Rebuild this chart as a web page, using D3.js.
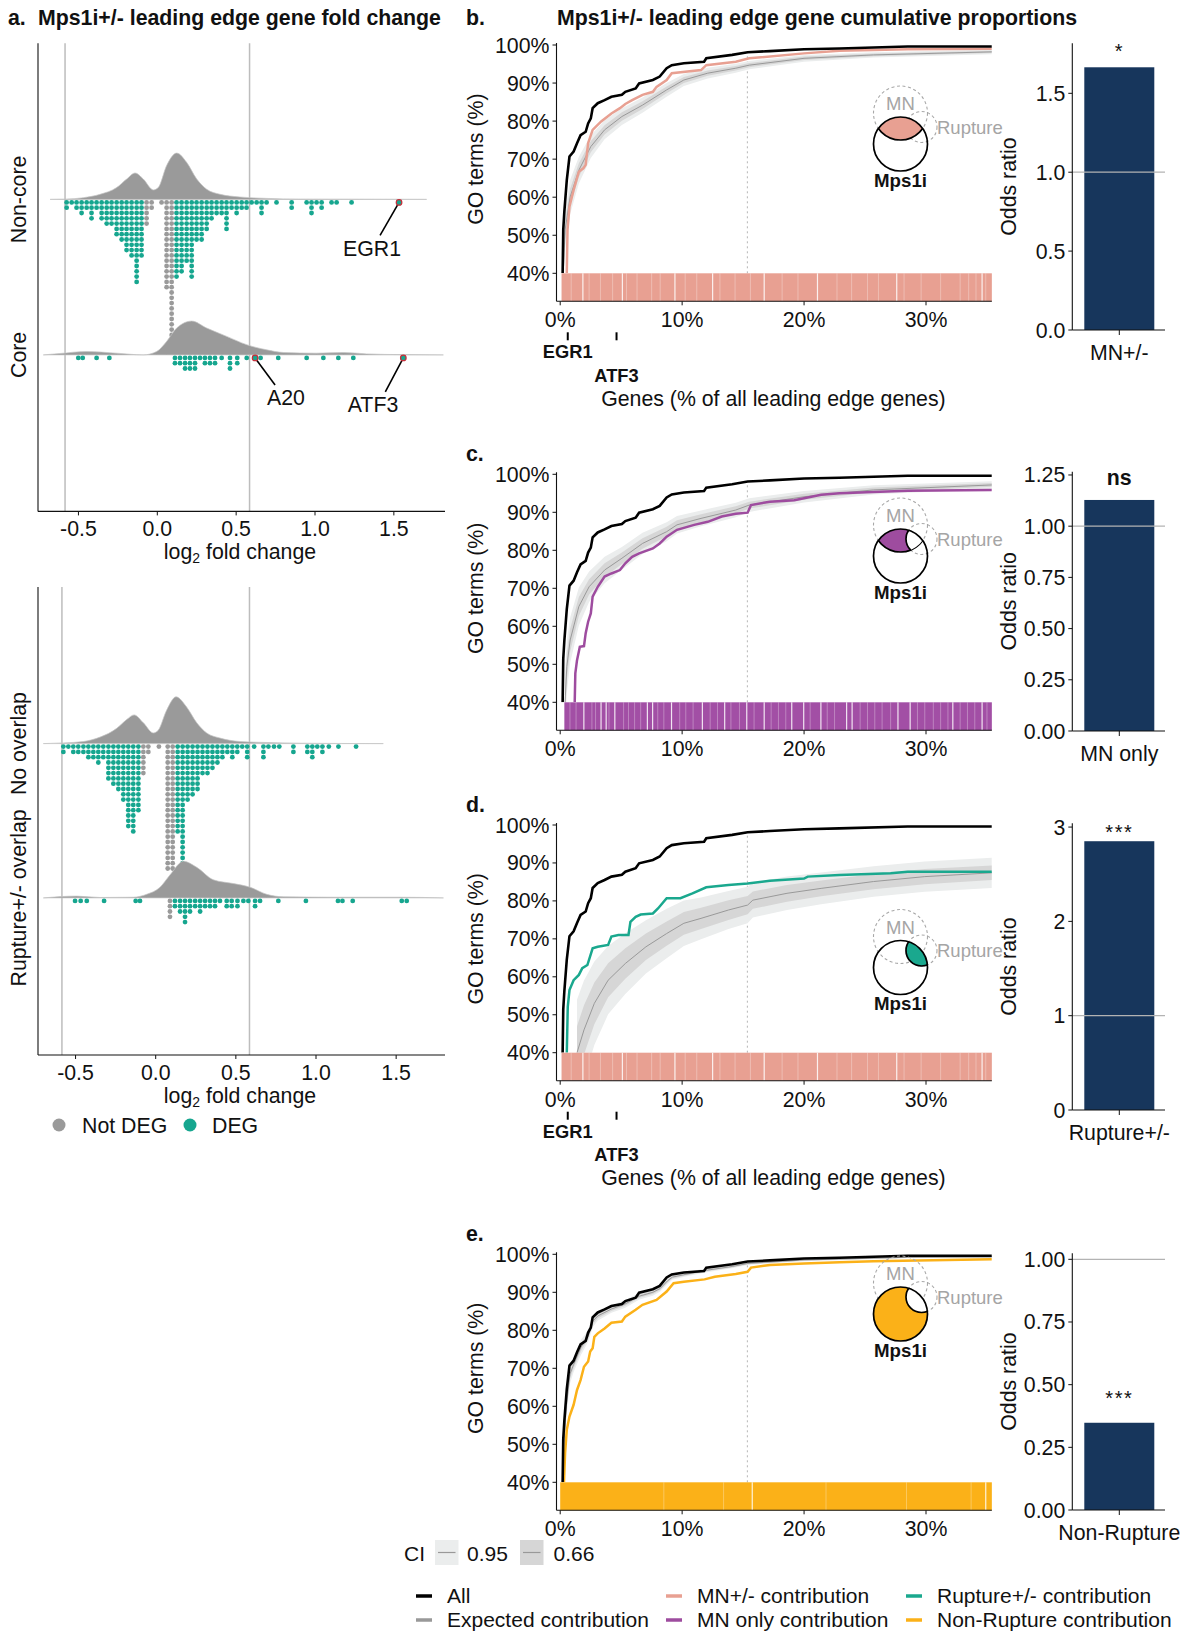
<!DOCTYPE html>
<html><head><meta charset="utf-8">
<script src="https://cdn.jsdelivr.net/npm/d3@7/dist/d3.min.js"></script>
<style>
html,body{margin:0;padding:0;background:#fff;}
svg text{font-family:"Liberation Sans",Arial,Helvetica,sans-serif;}
</style></head>
<body>
<svg id="fig" width="1181" height="1631" xmlns="http://www.w3.org/2000/svg"></svg>
<script>
// ================= DATA =================
// ---- panel a : log2 fold change ridges (relative density) ----
const foldTicks = [-0.5, 0, 0.5, 1, 1.5];
const foldTickLabels = ["-0.5", "0.0", "0.5", "1.0", "1.5"];
const foldThreshold = 0.585;

const densNonCore = [[-0.68,0],[-0.575,0.006],[-0.469,0.037],[-0.363,0.11],[-0.258,0.255],[-0.194,0.44],[-0.141,0.57],[-0.089,0.44],[-0.025,0.205],[0.006,0.255],[0.059,0.73],[0.123,1.0],[0.186,0.80],[0.25,0.44],[0.313,0.22],[0.398,0.11],[0.524,0.052],[0.693,0.022],[0.905,0.006],[1.708,0]];
const densCore = [[-0.723,0],[-0.617,0.03],[-0.448,0.073],[-0.258,0.037],[-0.089,0.0],[-0.004,0.073],[0.059,0.29],[0.123,0.58],[0.218,0.73],[0.313,0.58],[0.44,0.40],[0.567,0.22],[0.693,0.11],[0.799,0.052],[1.01,0.037],[1.18,0.052],[1.327,0.022],[1.539,0.006],[1.814,0]];
const densNoOverlap = [[-0.701,0],[-0.576,0.015],[-0.451,0.045],[-0.347,0.14],[-0.243,0.33],[-0.181,0.52],[-0.135,0.62],[-0.077,0.45],[-0.015,0.23],[0.016,0.29],[0.068,0.72],[0.127,1.01],[0.193,0.79],[0.256,0.45],[0.318,0.23],[0.401,0.12],[0.526,0.045],[0.692,0.024],[0.9,0.009],[1.42,0]];
const densRuptOverlap = [[-0.701,0],[-0.493,0.039],[-0.347,0.009],[-0.139,0.015],[-0.056,0.078],[0.027,0.23],[0.09,0.50],[0.173,0.79],[0.256,0.66],[0.36,0.39],[0.485,0.31],[0.589,0.23],[0.692,0.078],[0.796,0.024],[1.108,0.015],[1.524,0.015],[1.795,0]];

// dot stacks: [log2FC bin, number of genes]
const nonCoreDEG = [[-0.575,2],[-0.543,1],[-0.512,2],[-0.48,3],[-0.448,2],[-0.417,4],[-0.385,2],[-0.353,4],[-0.321,5],[-0.29,5],[-0.258,7],[-0.226,8],[-0.195,10],[-0.163,11],[-0.131,16],[-0.1,11],
  [0.122,15],[0.154,14],[0.186,12],[0.218,15],[0.249,8],[0.281,8],[0.313,6],[0.344,4],[0.376,3],[0.408,3],[0.439,6],[0.471,2],[0.503,3],[0.535,2],[0.566,2],[0.598,1],[0.63,1],[0.661,3],[0.693,1],[0.756,1],[0.852,2],[0.947,1],[0.978,3],[1.01,1],[1.042,2],[1.105,1],[1.137,1],[1.232,1]];
const nonCoreNotDEG = [[-0.068,5],[-0.036,2],[0.027,1],[0.059,17],[0.091,26]];
const coreDEG = [[-0.501,1],[-0.473,1],[-0.385,1],[-0.304,1],[0.112,2],[0.144,2],[0.176,3],[0.207,3],[0.239,3],[0.271,1],[0.302,2],[0.334,2],[0.366,2],[0.408,1],[0.461,3],[0.507,2],[0.567,1],[0.655,1],[0.767,1],[0.947,1],[1.053,1],[1.148,1],[1.243,1]];
const coreNotDEG = [];
const noOverlapDEG = [[-0.576,2],[-0.545,1],[-0.514,2],[-0.483,2],[-0.451,2],[-0.42,3],[-0.389,3],[-0.358,4],[-0.327,3],[-0.295,7],[-0.264,8],[-0.233,9],[-0.202,11],[-0.171,16],[-0.14,17],[-0.108,13],
  [0.137,17],[0.168,24],[0.199,11],[0.23,10],[0.261,9],[0.292,6],[0.323,6],[0.354,5],[0.385,4],[0.416,3],[0.447,2],[0.478,3],[0.509,2],[0.54,1],[0.571,3],[0.614,1],[0.672,3],[0.703,1],[0.738,1],[0.771,1],[0.859,2],[0.946,2],[0.977,3],[1.008,1],[1.04,2],[1.08,1],[1.14,1],[1.25,1]];
const noOverlapNotDEG = [[-0.077,6],[-0.046,2],[0.02,1],[0.075,24],[0.106,24]];
const ruptOverlapDEG = [[-0.503,1],[-0.468,1],[-0.43,1],[-0.322,1],[-0.125,1],[-0.098,1],[0.12,2],[0.152,3],[0.183,5],[0.214,3],[0.246,2],[0.277,3],[0.308,2],[0.339,2],[0.37,2],[0.401,1],[0.443,2],[0.474,2],[0.51,2],[0.547,1],[0.578,1],[0.62,2],[0.651,1],[0.765,1],[0.937,1],[1.137,1],[1.165,1],[1.229,1],[1.535,1],[1.566,1]];
const ruptOverlapNotDEG = [[0.089,4]];

const highlightGenes = [
  {gene:"EGR1", fc:1.533, group:"Non-core"},
  {gene:"A20",  fc:0.62,  group:"Core"},
  {gene:"ATF3", fc:1.56,  group:"Core"}
];

// ---- panels b-e : cumulative proportions [% genes, % GO terms] ----
const pctTicks = [0, 10, 20, 30];
const goTicks = [40, 50, 60, 70, 80, 90, 100];
const allCurve = [[0.2,40],[0.25,51.4],[0.34,56.2],[0.54,64.5],[0.76,70.7],[1.1,72],[1.38,74.2],[1.67,76.3],[2.09,77.2],[2.29,79.4],[2.51,80.7],[2.66,83.4],[3.08,84.7],[3.64,85.5],[4.2,86.4],[5.06,86.9],[5.34,87.7],[6.19,88.6],[6.47,89.9],[7.6,90.8],[8.16,91.7],[8.73,93.9],[9.15,94.7],[10.14,95.2],[11.8,95.6],[11.98,96.5],[14.1,97.4],[15.37,98.1],[17.2,98.4],[20,98.9],[22.9,99.1],[28.5,99.6],[35.4,99.6]];

const mnCurve = [[0.54,40],[0.6,51.4],[0.76,57.5],[1.1,61.9],[1.53,66.7],[1.9,67.6],[2.09,68.5],[2.29,74.2],[2.66,77.7],[3.36,79.9],[4.2,82],[4.9,83.4],[5.34,84.5],[5.9,85.5],[6.75,86.9],[7.6,87.7],[7.9,89],[8.73,90.8],[9.15,92.6],[11.55,93.4],[11.98,94.7],[14.4,95.6],[15.5,96.5],[20,97.8],[22.9,98.5],[28.5,98.9],[35.4,99]];
const mnExpected = [[0.25,40],[0.4,51.4],[0.82,60.1],[1.53,67.1],[2.51,73.3],[3.64,77.7],[5.06,81.2],[6.75,84.2],[8.73,88.2],[10.14,90.8],[12.1,92.6],[14.4,93.9],[15.5,94.7],[20,96.5],[25.7,97.4],[35.4,98.2]];
const mnCI95 = [5,5,4.5,3.5,3,2.5,2.2,2,1.8,1.6,1.4,1.2,1.1,0.9,0.7,0.6];
const mnCI66 = [2.5,2.5,2.2,1.8,1.5,1.2,1.1,1,0.9,0.8,0.7,0.6,0.55,0.45,0.35,0.3];

const mnOnlyCurve = [[1.19,40],[1.24,47.6],[1.38,51.1],[1.61,54.6],[1.95,54.8],[2.09,58.2],[2.29,61.2],[2.51,63.4],[2.66,67.8],[3.08,70.4],[3.64,73.1],[4.2,73.9],[4.9,74.8],[5.34,76.6],[5.9,78.3],[6.47,79.2],[7.6,80.5],[8.16,81.8],[8.73,83.6],[9.58,85.4],[10.99,86.7],[12.1,87.5],[13.25,88.9],[14.4,89.6],[15.37,89.9],[15.65,91.9],[17.2,92.8],[19.2,93.2],[21.4,94.6],[22.9,95],[28.5,95.7],[35.4,95.9]];
const mnOnlyExpected = [[0.4,40],[0.54,49.4],[0.82,56.4],[1.53,65.2],[2.37,70.4],[3.64,74.8],[5.06,77.9],[6.75,81.8],[8.73,84.9],[9.58,86.7],[11.55,88.4],[14.4,90.6],[15.5,91.9],[20,94.1],[25.7,95.9],[35.4,97.2]];
const mnOnlyCI95 = [8,7,6,5,4,3.5,3,2.8,2.5,2.3,2.1,1.9,1.8,1.5,1.2,1];
const mnOnlyCI66 = [4,3.5,3,2.5,2,1.8,1.5,1.4,1.3,1.2,1.1,1,0.9,0.8,0.6,0.5];

const ruptCurve = [[0.54,40],[0.62,52.1],[0.76,56.5],[1.1,59.1],[1.53,60.5],[1.81,62.3],[2.23,63.1],[2.66,67.5],[3.08,67.9],[3.93,68.4],[4.2,70.6],[4.77,71],[5.6,71],[5.76,74.5],[6.19,75.8],[6.6,76.4],[7.6,76.7],[8.02,78],[8.73,80.7],[9.86,80.7],[10.85,82],[11.98,83.6],[13.8,84.2],[15.37,84.6],[17.2,85.3],[20,85.9],[20.3,86.4],[22.9,86.8],[27.1,87.3],[28.5,87.7],[35.4,87.7]];
const ruptExpected = [[1.38,40],[1.95,46],[2.8,53],[3.93,59.1],[5.34,63.5],[7.03,67.9],[8.73,71.4],[10.14,74.1],[11.55,75.4],[13.8,77.6],[15.37,78.9],[15.8,80.2],[18.6,82],[21.4,83.3],[25.7,85.1],[29.9,86.4],[35.4,87.4]];
const ruptCI95 = [14,13,11,9,8,7,6.5,6,5.5,5,4.8,4.6,4.4,4.2,4,4,4];
const ruptCI66 = [7,6.5,5.5,4.5,4,3.5,3.2,3,2.8,2.6,2.4,2.3,2.2,2.1,2,2,1.9];

const nonRuptCurve = [[0.31,40],[0.4,47.6],[0.54,53.8],[0.76,57.3],[1.1,60.4],[1.38,64.3],[1.67,66.9],[1.95,70.4],[2.29,71.8],[2.46,74.4],[2.66,75.3],[2.8,78.3],[3.08,79.2],[3.64,80.5],[4.2,82],[5.06,82.3],[5.34,83.6],[6.19,85.4],[6.75,86.7],[7.9,88],[8.73,90.2],[9.3,92.4],[10.14,92.8],[11.84,93.4],[12.68,94.1],[14.4,94.8],[15.37,95.4],[15.65,96.5],[17.2,97.2],[20,97.6],[22.9,97.9],[25.7,98.2],[35.4,98.7]];
const nonRuptExpected = [[0.2,40],[0.3,50],[0.5,60],[0.8,68.5],[1.1,71],[1.7,75.5],[2.3,78.5],[2.7,82.5],[3.1,83.8],[4.2,85.6],[5.3,86.9],[6.5,89],[7.6,90],[8.2,91],[8.8,93],[9.2,94],[10.1,94.6],[12,95.8],[14.1,96.8],[15.4,97.6],[20,98.5],[28.5,99.2],[35.4,99.3]];
const nonRuptCI95 = [3,3,3,2.5,2,2,1.5,1.5,1.2,1,1,0.9,0.9,0.8,0.8,0.7,0.6,0.5,0.5,0.4,0.3,0.2,0.2];
const nonRuptCI66 = [1.5,1.5,1.5,1.2,1,1,0.8,0.8,0.6,0.5,0.5,0.45,0.45,0.4,0.4,0.35,0.3,0.25,0.25,0.2,0.15,0.1,0.1];

// rug gaps (% positions of genes NOT in the category)
const gapsMN = [1.86,5.1,9.41,12.5,16.73,21.1,27.6,34.6];
const gapsMNLight = [0.9,2.37,3.3,4.3,5.44,6.3,7.5,8.2,10.25,11.2,13.1,14.34,15.6,18.2,19.5,22.7,23.9,25.2,26.1,28.2,29.6,31.2,32.8,33.5,34.1,34.9];
const gapsMNOnly = [1.94,3.35,3.77,4.48,7.15,7.58,9.13,11.66,13.49,15.3,16.73,18.99,19.97,21.38,23.49,23.94,27.7,28.7,32.2,34.6];
const gapsMNOnlyLight = [0.8,1.3,2.6,2.9,4.0,5.2,5.6,6.1,6.6,8.0,8.5,9.8,10.3,10.9,12.3,12.9,14.0,14.7,15.9,17.3,17.9,18.5,20.5,21.9,22.5,24.6,25.2,25.8,26.4,27.1,29.3,29.9,30.6,31.2,31.8,32.8,33.4,34.0,35.0];
const gapsNonRupt = [15.75,34.9];
const gapsNonRuptLight = [8.5,13.4,21.8,28.4,33.7];

const markerGenes = [{gene:"EGR1", pct:0.62}, {gene:"ATF3", pct:4.62}];

// ---- odds ratio bars ----
const orCategories = ["MN+/-", "MN only", "Rupture+/-", "Non-Rupture"];
const orValues = [1.665, 1.128, 2.85, 0.348];
const orSignif = ["*", "ns", "***", "***"];
const orTicks = [[0,0.5,1,1.5],[0,0.25,0.5,0.75,1,1.25],[0,1,2,3],[0,0.25,0.5,0.75,1]];
const orTickLabels = [["0.0","0.5","1.0","1.5"],["0.00","0.25","0.50","0.75","1.00","1.25"],["0","1","2","3"],["0.00","0.25","0.50","0.75","1.00"]];
const orMax = [1.817, 1.266, 3.04, 1.024];

// ================= DRAW =================
const svg = d3.select("#fig");
const defs = svg.append("defs");
const GREY = "#9a9a9a", TEAL = "#16a68f";
const C_MN = "#e8a092", C_MNONLY = "#9e4c9f", C_RUPT = "#1aa88e", C_NR = "#fbb118", NAVY = "#17365c";
const FS = 21.3;

function txt(x, y, s, o = {}) {
  const t = svg.append("text").attr("x", x).attr("y", y).text(s)
    .attr("font-size", o.size || FS).attr("fill", o.fill || "#111")
    .attr("text-anchor", o.anchor || "start");
  if (o.bold) t.attr("font-weight", "bold");
  if (o.rotate) t.attr("transform", `rotate(-90,${x},${y})`).attr("dy", "0.35em");
  if (o.ls) t.attr("letter-spacing", o.ls);
  return t;
}

// ---------- panel a ----------
txt(8, 25, "a.", {bold: true, size: 21.3});
txt(38, 25, "Mps1i+/- leading edge gene fold change", {bold: true, size: 21.3});

const ROW = 5.3, DOT_R = 2.4;
function ridge(xs, base, dens, deg, notDeg) {
  const area = d3.area().x(d => xs(d[0])).y0(base).y1(d => base - d[1] * 46.3).curve(d3.curveMonotoneX);
  svg.append("path").attr("d", area(dens)).attr("fill", GREY).attr("stroke", "#c4c4c4").attr("stroke-width", 0.7);
  const pts = [];
  notDeg.forEach(([fc, n]) => { for (let i = 0; i < n; i++) pts.push({fc, i, c: GREY}); });
  deg.forEach(([fc, n]) => { for (let i = 0; i < n; i++) pts.push({fc, i, c: TEAL}); });
  svg.append("g").selectAll("circle").data(pts).join("circle")
    .attr("cx", d => xs(d.fc)).attr("cy", d => base + 3 + d.i * ROW).attr("r", DOT_R).attr("fill", d => d.c);
}
function foldAxis(xs, top, axisY) {
  const L = 38, R = 445;
  [-foldThreshold, foldThreshold].forEach(v => svg.append("line").attr("x1", xs(v)).attr("x2", xs(v))
    .attr("y1", top).attr("y2", axisY).attr("stroke", "#bdbdbd").attr("stroke-width", 1.5));
  svg.append("line").attr("x1", L).attr("x2", L).attr("y1", top).attr("y2", axisY).attr("stroke", "#111").attr("stroke-width", 1.1);
  svg.append("line").attr("x1", L).attr("x2", R).attr("y1", axisY).attr("y2", axisY).attr("stroke", "#111").attr("stroke-width", 1.1);
  foldTicks.forEach((t, i) => {
    svg.append("line").attr("x1", xs(t)).attr("x2", xs(t)).attr("y1", axisY).attr("y2", axisY + 4).attr("stroke", "#111");
    txt(xs(t), axisY + 25, foldTickLabels[i], {anchor: "middle"});
  });
  const t = svg.append("text").attr("x", 240).attr("y", axisY + 47.5).attr("text-anchor", "middle").attr("font-size", FS).attr("fill", "#111");
  t.append("tspan").text("log");
  t.append("tspan").text("2").attr("font-size", 14).attr("dy", 4);
  t.append("tspan").text(" fold change").attr("dy", -4);
}

// top ridges
const xA1 = d3.scaleLinear().domain([0, 1]).range([157.3, 315]);
foldAxis(xA1, 43.3, 511.4);
const baseNC = 199.4, baseC = 354.9;
ridge(xA1, baseNC, densNonCore, nonCoreDEG, nonCoreNotDEG);
ridge(xA1, baseC, densCore, coreDEG, coreNotDEG);
txt(18.5, baseNC, "Non-core", {rotate: true, anchor: "middle"});
txt(18.5, baseC, "Core", {rotate: true, anchor: "middle"});

// highlights & labels
const hlLayout = {EGR1: {dx: -19, dy: 33, lx: 372, ly: 255.5}, A20: {dx: 20, dy: 27, lx: 286, ly: 404.5}, ATF3: {dx: -18, dy: 34, lx: 373, ly: 411.5}};
highlightGenes.forEach(h => {
  const bx = xA1(h.fc), by = (h.group === "Core" ? baseC : baseNC) + 3;
  const L = hlLayout[h.gene];
  svg.append("line").attr("x1", bx).attr("y1", by).attr("x2", bx + L.dx).attr("y2", by + L.dy).attr("stroke", "#000").attr("stroke-width", 1.6);
  svg.append("circle").attr("cx", bx).attr("cy", by).attr("r", 2.8).attr("fill", TEAL).attr("stroke", "#c62f3a").attr("stroke-width", 1.2);
  txt(L.lx, L.ly, h.gene, {anchor: "middle"});
});

// bottom ridges
const xA2 = d3.scaleLinear().domain([0, 1]).range([155.7, 316]);
foldAxis(xA2, 587, 1055);
const baseNO = 743.6, baseRO = 897.9;
ridge(xA2, baseNO, densNoOverlap, noOverlapDEG, noOverlapNotDEG);
ridge(xA2, baseRO, densRuptOverlap, ruptOverlapDEG, ruptOverlapNotDEG);
txt(18.5, baseNO, "No overlap", {rotate: true, anchor: "middle"});
txt(18.5, baseRO, "Rupture+/- overlap", {rotate: true, anchor: "middle"});

// DEG legend
[["Not DEG", GREY, 59, 82], ["DEG", TEAL, 190, 212]].forEach(([lab, col, cx, tx]) => {
  svg.append("circle").attr("cx", cx).attr("cy", 1125).attr("r", 6.5).attr("fill", col);
  txt(tx, 1132.5, lab);
});

// ---------- panels b-e ----------
const xC = d3.scaleLinear().domain([0, 30]).range([560.2, 926.0]);
const XL = 556.5, XR = xC(35.4);

txt(466, 25, "b.", {bold: true, size: 21.3});
txt(557, 25, "Mps1i+/- leading edge gene cumulative proportions", {bold: true, size: 21.3});

const panels = [
  {id: "b", y100: 45, y40: 273.3, contrib: mnCurve, exp: mnExpected, ci95: mnCI95, ci66: mnCI66, color: C_MN, rugColor: C_MN, rugStart: 0.11, gaps: gapsMN, gapsL: gapsMNLight, venn: "mn", vy: 144, genes: true},
  {id: "c", y100: 474.3, y40: 702.3, contrib: mnOnlyCurve, exp: mnOnlyExpected, ci95: mnOnlyCI95, ci66: mnOnlyCI66, color: C_MNONLY, rugColor: "#a24fa5", rugStart: 0.34, gaps: gapsMNOnly, gapsL: gapsMNOnlyLight, venn: "mnonly", vy: 556, genes: false, letter: "c."},
  {id: "d", y100: 825, y40: 1052.7, contrib: ruptCurve, exp: ruptExpected, ci95: ruptCI95, ci66: ruptCI66, color: C_RUPT, rugColor: C_MN, rugStart: 0.11, gaps: gapsMN, gapsL: gapsMNLight, venn: "rupt", vy: 967.5, genes: true, letter: "d."},
  {id: "e", y100: 1254.3, y40: 1482.3, contrib: nonRuptCurve, exp: nonRuptExpected, ci95: nonRuptCI95, ci66: nonRuptCI66, color: C_NR, rugColor: C_NR, rugStart: 0, gaps: gapsNonRupt, gapsL: gapsNonRuptLight, venn: "nonrupt", vy: 1314, genes: false, letter: "e."}
];

function venn(P, fillCol) {
  const cx = 900.5, cy = P.vy, r = 27;
  const mn = {x: cx, y: cy - 31, r: 27}, ru = {x: cx + 21, y: cy - 17, r: 15.5};
  const g = svg.append("g");
  const circ = (sel, c) => sel.append("circle").attr("cx", c.x).attr("cy", c.y).attr("r", c.r);
  circ(g, mn).attr("fill", "none").attr("stroke", "#a8a8a8").attr("stroke-width", 1.1).attr("stroke-dasharray", "3,2.6");
  circ(g, ru).attr("fill", "none").attr("stroke", "#a8a8a8").attr("stroke-width", 1.1).attr("stroke-dasharray", "3,2.6");
  const idM = "vm" + P.id, idN = "vn" + P.id;
  circ(defs.append("clipPath").attr("id", idM), {x: cx, y: cy, r: r});
  circ(defs.append("clipPath").attr("id", idN), mn);
  const inM = () => g.append("g").attr("clip-path", `url(#${idM})`);
  if (P.venn === "mn" || P.venn === "mnonly") {
    circ(inM(), mn).attr("fill", fillCol).attr("stroke", "#000").attr("stroke-width", 1.7);
  }
  if (P.venn === "mnonly") {
    circ(inM().append("g").attr("clip-path", `url(#${idN})`), ru).attr("fill", "#fff").attr("stroke", "#000").attr("stroke-width", 1.7);
  }
  if (P.venn === "rupt") {
    circ(inM(), ru).attr("fill", fillCol).attr("stroke", "#000").attr("stroke-width", 1.7);
  }
  if (P.venn === "nonrupt") {
    circ(g, {x: cx, y: cy, r: r}).attr("fill", fillCol);
    circ(inM(), ru).attr("fill", "#fff").attr("stroke", "#000").attr("stroke-width", 1.7);
  }
  circ(g, {x: cx, y: cy, r: r}).attr("fill", "none").attr("stroke", "#000").attr("stroke-width", 1.7);
  txt(cx, cy - 34, "MN", {anchor: "middle", fill: "#a5a5a5", size: 18.5});
  txt(937, ru.y + 6.5, "Rupture", {fill: "#a5a5a5", size: 18.5});
  txt(cx, cy + 42.5, "Mps1i", {anchor: "middle", bold: true, size: 18.7});
}

panels.forEach(P => {
  const y = d3.scaleLinear().domain([40, 100]).range([P.y40, P.y100]);
  const axisY = P.y40 + 28;
  if (P.letter) txt(466, P.y100 - 13, P.letter, {bold: true, size: 21.3});
  const cid = "cl" + P.id;
  defs.append("clipPath").attr("id", cid).append("rect").attr("x", XL).attr("y", P.y100 - 15).attr("width", XR - XL).attr("height", P.y40 - P.y100 + 15);
  // dotted reference
  svg.append("line").attr("x1", xC(15.35)).attr("x2", xC(15.35)).attr("y1", y(40)).attr("y2", y(98))
    .attr("stroke", "#b5b5b5").attr("stroke-width", 1).attr("stroke-dasharray", "2,3");
  const cg = svg.append("g").attr("clip-path", `url(#${cid})`);
  const band = ci => d3.area().x(d => xC(d[0])).y0((d, i) => y(d[1] - ci[i])).y1((d, i) => y(d[1] + ci[i]))(P.exp);
  cg.append("path").attr("d", band(P.ci95)).attr("fill", "#ebeded");
  cg.append("path").attr("d", band(P.ci66)).attr("fill", "#d6d6d6");
  const line = d3.line().x(d => xC(d[0])).y(d => y(d[1]));
  cg.append("path").attr("d", line(P.exp)).attr("fill", "none").attr("stroke", "#999").attr("stroke-width", 1);
  cg.append("path").attr("d", line(P.contrib)).attr("fill", "none").attr("stroke", P.color).attr("stroke-width", 2.5);
  cg.append("path").attr("d", line(allCurve)).attr("fill", "none").attr("stroke", "#000").attr("stroke-width", 2.6);
  // rug
  svg.append("rect").attr("x", xC(P.rugStart)).attr("y", P.y40).attr("width", XR - xC(P.rugStart)).attr("height", axisY - P.y40).attr("fill", P.rugColor);
  P.gapsL.forEach(gp => svg.append("line").attr("x1", xC(gp)).attr("x2", xC(gp)).attr("y1", P.y40).attr("y2", axisY).attr("stroke", "#fff").attr("stroke-width", 1).attr("stroke-opacity", 0.3));
  P.gaps.forEach(gp => svg.append("line").attr("x1", xC(gp)).attr("x2", xC(gp)).attr("y1", P.y40).attr("y2", axisY).attr("stroke", "#fff").attr("stroke-width", 1.2).attr("stroke-opacity", 0.85));
  // axes
  svg.append("line").attr("x1", XL).attr("x2", XL).attr("y1", P.y100 - 2).attr("y2", axisY).attr("stroke", "#111").attr("stroke-width", 1.1);
  svg.append("line").attr("x1", XL).attr("x2", XR).attr("y1", axisY).attr("y2", axisY).attr("stroke", "#111").attr("stroke-width", 1.1);
  goTicks.forEach(t => {
    svg.append("line").attr("x1", XL - 4).attr("x2", XL).attr("y1", y(t)).attr("y2", y(t)).attr("stroke", "#111");
    txt(XL - 7, y(t) + 7.5, t + "%", {anchor: "end"});
  });
  pctTicks.forEach(t => {
    svg.append("line").attr("x1", xC(t)).attr("x2", xC(t)).attr("y1", axisY).attr("y2", axisY + 4).attr("stroke", "#111");
    txt(xC(t), axisY + 26, t + "%", {anchor: "middle"});
  });
  txt(475.5, (P.y40 + P.y100) / 2, "GO terms (%)", {rotate: true, anchor: "middle"});
  if (P.genes) {
    markerGenes.forEach((m, i) => {
      svg.append("line").attr("x1", xC(m.pct)).attr("x2", xC(m.pct)).attr("y1", axisY + 31).attr("y2", axisY + 39).attr("stroke", "#000").attr("stroke-width", 2);
      txt(xC(m.pct), axisY + 57 + i * 23.5, m.gene, {anchor: "middle", bold: true, size: 18.3});
    });
    txt(773.4, axisY + 104.5, "Genes (% of all leading edge genes)", {anchor: "middle"});
  }
  venn(P, P.venn === "mn" ? C_MN : P.venn === "mnonly" ? C_MNONLY : P.venn === "rupt" ? C_RUPT : C_NR);
});

// ---------- odds ratio bars ----------
const orLayout = [{top: 43.3, bot: 330, sig: 20.6}, {top: 471.7, bot: 731, sig: 21.7}, {top: 823.3, bot: 1110, sig: 13.3}, {top: 1253.3, bot: 1510, sig: 29.4}];
orCategories.forEach((cat, k) => {
  const Lo = orLayout[k];
  const y = d3.scaleLinear().domain([0, orMax[k]]).range([Lo.bot, Lo.top]);
  const AX = 1072.3, AR = 1165, BX = 1084.3, BW = 70, CX = BX + BW / 2;
  svg.append("rect").attr("x", BX).attr("y", y(orValues[k])).attr("width", BW).attr("height", Lo.bot - y(orValues[k])).attr("fill", NAVY);
  svg.append("line").attr("x1", AX).attr("x2", AR).attr("y1", y(1)).attr("y2", y(1)).attr("stroke", "#b3b3b3").attr("stroke-width", 1.3);
  svg.append("line").attr("x1", AX).attr("x2", AX).attr("y1", Lo.top).attr("y2", Lo.bot).attr("stroke", "#111").attr("stroke-width", 1.1);
  svg.append("line").attr("x1", AX).attr("x2", AR).attr("y1", Lo.bot).attr("y2", Lo.bot).attr("stroke", "#111").attr("stroke-width", 1.1);
  orTicks[k].forEach((t, i) => {
    svg.append("line").attr("x1", AX - 4).attr("x2", AX).attr("y1", y(t)).attr("y2", y(t)).attr("stroke", "#111");
    txt(AX - 7, y(t) + 7.5, orTickLabels[k][i], {anchor: "end"});
  });
  svg.append("line").attr("x1", CX).attr("x2", CX).attr("y1", Lo.bot).attr("y2", Lo.bot + 5).attr("stroke", "#111");
  txt(CX, Lo.bot + 30, cat, {anchor: "middle"});
  const sc = y(orValues[k]) - Lo.sig;
  if (orSignif[k] === "ns") txt(CX, sc + 7, "ns", {anchor: "middle", bold: true, size: 21.3});
  else txt(CX, sc + 11.5, orSignif[k], {anchor: "middle", size: 20, ls: 1.5});
  txt(1008.3, (Lo.top + Lo.bot) / 2, "Odds ratio", {rotate: true, anchor: "middle"});
});

// ---------- bottom legends ----------
txt(404, 1561, "CI", {size: 21});
[["0.95", "#ebeded", 435, 467], ["0.66", "#d6d6d6", 520, 553.5]].forEach(([lab, col, bx, tx]) => {
  svg.append("rect").attr("x", bx).attr("y", 1540).attr("width", 23.5).attr("height", 25).attr("fill", col);
  svg.append("line").attr("x1", bx + 3).attr("x2", bx + 20.5).attr("y1", 1552.5).attr("y2", 1552.5).attr("stroke", "#999").attr("stroke-width", 1.2);
  txt(tx, 1561, lab, {size: 21});
});
const legendItems = [
  ["All", "#000", 416, 1596], ["Expected contribution", "#999", 416, 1620],
  ["MN+/- contribution", C_MN, 666, 1596], ["MN only contribution", C_MNONLY, 666, 1620],
  ["Rupture+/- contribution", C_RUPT, 906, 1596], ["Non-Rupture contribution", C_NR, 906, 1620]
];
legendItems.forEach(([lab, col, x, yy]) => {
  svg.append("line").attr("x1", x).attr("x2", x + 16).attr("y1", yy).attr("y2", yy).attr("stroke", col).attr("stroke-width", 3.5);
  txt(x + 31, yy + 7, lab, {size: 21});
});
</script>
</body></html>
